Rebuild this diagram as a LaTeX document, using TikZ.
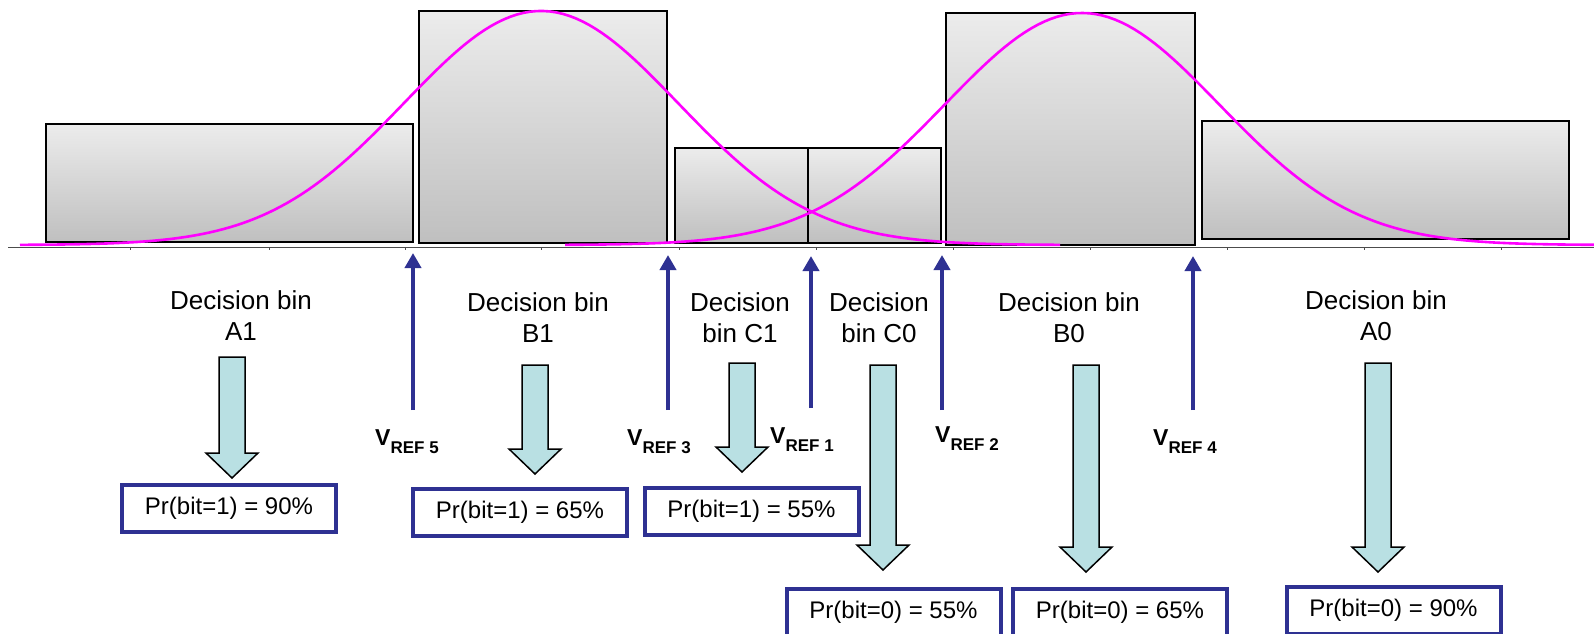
\documentclass[tikz,border=0pt]{standalone}
\usepackage{fontspec}
\setmainfont{Liberation Sans}
\usetikzlibrary{calc,arrows.meta}
\definecolor{refblue}{RGB}{46,49,146}
\definecolor{binfill}{RGB}{185,224,227}
\definecolor{curvemag}{RGB}{255,0,255}

% block arrow: x, top of shaft, start of head, tip
\newcommand{\binarrow}[4]{%
\draw[barrow] (#1-13,#2) -- (#1+13,#2) -- (#1+13,#3) -- (#1+26,#3) -- (#1,#4) -- (#1-26,#3) -- (#1-13,#3) -- cycle;}

\begin{document}
\begin{tikzpicture}[x=1pt,y=-1pt,
  bin/.style={draw=black,line width=1.8pt,top color=gray!15,bottom color=gray!50},
  gauss/.style={curvemag,line width=2.6pt},
  barrow/.style={draw=black,line width=1.5pt,fill=binfill},
  bintext/.style={align=center,inner sep=0pt,font=\fontsize{26}{31}\selectfont},
  probbox/.style={draw=refblue,line width=4pt,minimum width=214,minimum height=47,inner sep=0pt,font=\fontsize{24}{24}\selectfont},
  vlabel/.style={anchor=base west,inner sep=0pt,font=\fontsize{23}{23}\selectfont\bfseries},
  vref/.style={draw=refblue,line width=4.5pt,-{Triangle[width=16pt,length=15pt]}}]
\useasboundingbox (0,0) rectangle (1594,633);
\clip (0,0) rectangle (1594,633);

% axis
\draw[gray!60!black,line width=1pt] (8,247) -- (1594,247);
\foreach \t in {130,269,405,541,679,816,953,1090,1227,1364,1501}
  \draw[gray!60!black,line width=1pt] (\t,247) -- (\t,250);

% bins
\draw[bin] (46,124) rectangle (413,242);
\draw[bin] (419,11) rectangle (667,243);
\draw[bin] (675,148) rectangle (808,243);
\draw[bin] (808,148) rectangle (941,243);
\draw[bin] (946,13) rectangle (1195,245);
\draw[bin] (1202,121) rectangle (1569,239);

% the two distributions
\draw[gauss] plot[domain=20:1060,samples=160]
  (\x,{245-234*exp(-0.5*((\x-541)/137)*((\x-541)/137))});
\draw[gauss] plot[domain=565:1594,samples=160]
  (\x,{245-232*exp(-0.5*((\x-1082)/137)*((\x-1082)/137))});

% reference levels
\coordinate (b5) at (413,410); \coordinate (t5) at (413,253);
\coordinate (b3) at (668,410); \coordinate (t3) at (668,255);
\coordinate (b1) at (811,408); \coordinate (t1) at (811,256);
\coordinate (b2) at (942,410); \coordinate (t2) at (942,255);
\coordinate (b4) at (1193,410); \coordinate (t4) at (1193,256);
\foreach \r in {5,3,1,2,4}
  \draw[vref] (b\r) -- (t\r);

\node[vlabel] (v5) at (375,445) {V\raisebox{-8pt}{\fontsize{17}{17}\selectfont REF 5}};
\node[vlabel] (v3) at (627,445) {V\raisebox{-8pt}{\fontsize{17}{17}\selectfont REF 3}};
\node[vlabel] (v1) at (770,443) {V\raisebox{-8pt}{\fontsize{17}{17}\selectfont REF 1}};
\node[vlabel] (v2) at (935,442) {V\raisebox{-8pt}{\fontsize{17}{17}\selectfont REF 2}};
\node[vlabel] (v4) at (1153,445) {V\raisebox{-8pt}{\fontsize{17}{17}\selectfont REF 4}};

% decision bins
\node[bintext] (da1) at (241,316) {Decision bin\\A1};
\node[bintext] (db1) at (538,318) {Decision bin\\B1};
\node[bintext] (dc1) at (740,318) {Decision\\bin C1};
\node[bintext] (dc0) at (879,318) {Decision\\bin C0};
\node[bintext] (db0) at (1069,318) {Decision bin\\B0};
\node[bintext] (da0) at (1376,316) {Decision bin\\A0};

\binarrow{232}{357}{453}{478}
\binarrow{535}{365}{449}{474}
\binarrow{742}{363}{447}{472}
\binarrow{883}{365}{545}{570}
\binarrow{1086}{365}{547}{572}
\binarrow{1378}{363}{547}{572}

% probabilities
\node[probbox] (pa1) at (229,508.5) {Pr(bit=1) = 90\%};
\node[probbox] (pb1) at (520,512) {Pr(bit=1) = 65\%};
\node[probbox] (pc1) at (751.5,511.5) {Pr(bit=1) = 55\%};
\node[probbox] (pc0) at (893.5,612) {Pr(bit=0) = 55\%};
\node[probbox] (pb0) at (1120,612) {Pr(bit=0) = 65\%};
\node[probbox] (pa0) at (1393.5,610) {Pr(bit=0) = 90\%};

\end{tikzpicture}
\end{document}
